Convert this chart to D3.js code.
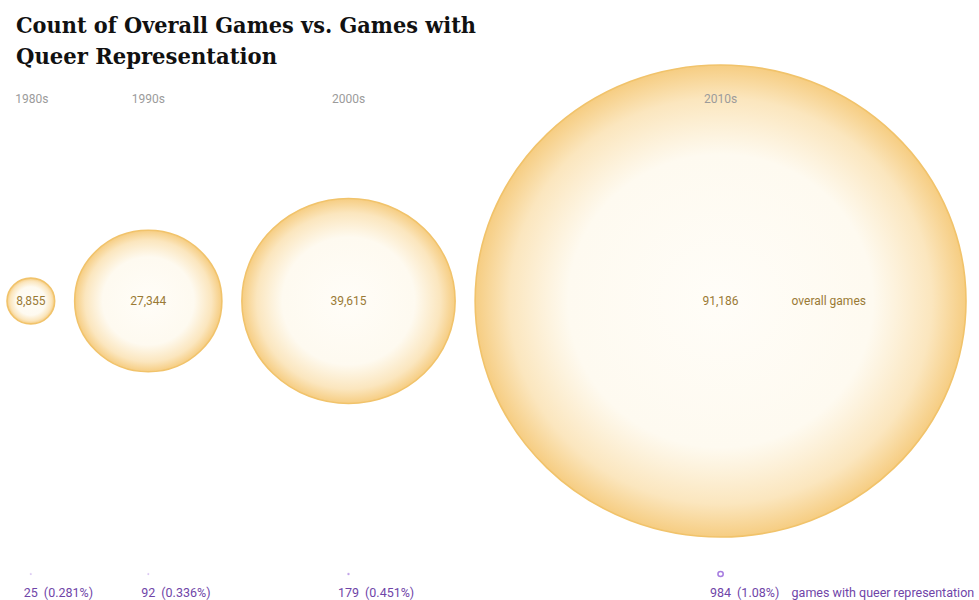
<!DOCTYPE html>
<html>
<head>
<meta charset="utf-8">
<script src="https://cdn.jsdelivr.net/npm/d3@7"></script>
<style>
  body { margin: 0; background: #fff; }
  svg { display: block; }
</style>
</head>
<body>
<svg id="chart" width="979" height="600"></svg>
<script>
// data
const decades = ['1980s', '1990s', '2000s', '2010s'];
const overallGames = [8855, 27344, 39615, 91186];
const queerGames = [25, 92, 179, 984];
const queerShare = ['(0.281%)', '(0.336%)', '(0.451%)', '(1.08%)'];

const svg = d3.select('#chart');
const cy = 301, queerY = 574, stretch = 1.04, gap = 20;

// radius is linear in the count
const r = d3.scaleLinear().domain([0, d3.max(overallGames)]).range([0, 236]);

// pack the circles left to right
const xs = [];
let edge = 7;
overallGames.forEach(v => {
    const rx = r(v) * stretch;
    xs.push(edge + rx);
    edge += 2 * rx + gap;
});

const defs = svg.append('defs');
const grad = defs.append('radialGradient').attr('id', 'glow');
grad.append('stop').attr('offset', '0%').attr('stop-color', '#fffdf8');
grad.append('stop').attr('offset', '62%').attr('stop-color', '#fefaf0');
grad.append('stop').attr('offset', '86%').attr('stop-color', '#fbe6be');
grad.append('stop').attr('offset', '100%').attr('stop-color', '#f6cd82');

// title
const title = svg.append('text')
    .style('font-family', '"DejaVu Serif", serif')
    .style('font-weight', 'bold')
    .style('font-size', '22px')
    .attr('fill', '#111');
title.append('tspan').attr('x', 16).attr('y', 33)
    .attr('textLength', 460).attr('lengthAdjust', 'spacingAndGlyphs')
    .text('Count of Overall Games vs. Games with');
title.append('tspan').attr('x', 16).attr('y', 64)
    .attr('textLength', 261).attr('lengthAdjust', 'spacingAndGlyphs')
    .text('Queer Representation');

const g = svg.append('g').style('font-family', 'Roboto, sans-serif');

g.selectAll('ellipse.overall')
    .data(overallGames)
    .join('ellipse')
    .attr('class', 'overall')
    .attr('cx', (d, i) => xs[i])
    .attr('cy', cy)
    .attr('rx', d => r(d) * stretch)
    .attr('ry', d => r(d))
    .attr('fill', 'url(#glow)')
    .attr('stroke', '#f1c36b')
    .attr('stroke-width', 1.6);

g.selectAll('text.decade')
    .data(decades)
    .join('text')
    .attr('class', 'decade')
    .attr('x', (d, i) => i === 0 ? xs[i] + 1 : xs[i])
    .attr('y', 103)
    .attr('text-anchor', 'middle')
    .style('font-size', '12px')
    .attr('fill', '#9b9b9b')
    .text(d => d);

g.selectAll('text.count')
    .data(overallGames)
    .join('text')
    .attr('class', 'count')
    .attr('x', (d, i) => xs[i])
    .attr('y', cy + 4)
    .attr('text-anchor', 'middle')
    .style('font-size', '12px')
    .attr('fill', '#9a7a35')
    .text(d => d3.format(',')(d));

g.append('text')
    .attr('x', xs[3] + 71)
    .attr('y', cy + 4)
    .style('font-size', '12px')
    .attr('fill', '#9a7a35')
    .text('overall games');

// queer representation circles on the same scale
g.selectAll('ellipse.queer')
    .data(queerGames)
    .join('ellipse')
    .attr('class', 'queer')
    .attr('cx', (d, i) => xs[i])
    .attr('cy', queerY)
    .attr('rx', d => Math.max(r(d) * stretch, 0.6))
    .attr('ry', d => Math.max(r(d), 0.6))
    .attr('fill', d => d > 500 ? '#fff' : '#b58ee6')
    .attr('stroke', '#a77de0')
    .attr('stroke-opacity', d => d > 500 ? 1 : (d > 150 ? 0.5 : 0.12))
    .attr('stroke-width', 1.5);

const nums = g.selectAll('text.qnum')
    .data(queerGames)
    .join('text')
    .attr('class', 'qnum')
    .attr('x', (d, i) => xs[i])
    .attr('y', 597)
    .attr('text-anchor', 'middle')
    .style('font-size', '12.5px')
    .attr('fill', '#6f45a8')
    .text(d => d);

const numW = nums.nodes().map(n => n.getComputedTextLength());

g.selectAll('text.qpct')
    .data(queerShare)
    .join('text')
    .attr('class', 'qpct')
    .attr('x', (d, i) => xs[i] + numW[i] / 2 + 6)
    .attr('y', 597)
    .style('font-size', '12.5px')
    .attr('fill', '#6f45a8')
    .text(d => d);

g.append('text')
    .attr('x', xs[3] + 71)
    .attr('y', 597)
    .style('font-size', '12.5px')
    .attr('fill', '#6f45a8')
    .text('games with queer representation');
</script>
</body>
</html>
